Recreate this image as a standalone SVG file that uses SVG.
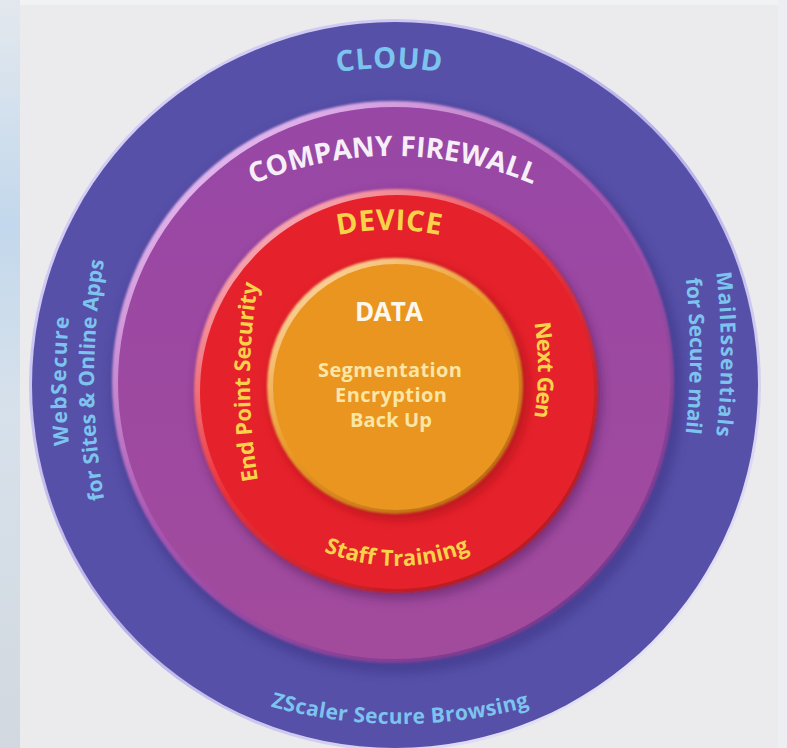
<svg xmlns="http://www.w3.org/2000/svg" width="787" height="748" viewBox="0 0 787 748">
<defs>
  <linearGradient id="leftStrip" x1="0" y1="0" x2="0" y2="1">
    <stop offset="0" stop-color="#e3e8ee"/>
    <stop offset="0.3" stop-color="#c3d8ec"/>
    <stop offset="0.55" stop-color="#d7e1eb"/>
    <stop offset="1" stop-color="#d2d8df"/>
  </linearGradient>
  <linearGradient id="rimBlue" x1="0.15" y1="0.1" x2="0.85" y2="0.9">
    <stop offset="0" stop-color="#d6d0f6"/>
    <stop offset="0.5" stop-color="#b9b2ea"/>
    <stop offset="1" stop-color="#e6e4f6"/>
  </linearGradient>
  <linearGradient id="rimPurple" x1="0.2" y1="0.1" x2="0.8" y2="0.9">
    <stop offset="0" stop-color="#e2b4ec"/>
    <stop offset="0.45" stop-color="#a855b0"/>
    <stop offset="1" stop-color="#7c3a8e"/>
  </linearGradient>
  <linearGradient id="fillPurple" x1="0" y1="0" x2="0" y2="1">
    <stop offset="0" stop-color="#9847a6"/>
    <stop offset="1" stop-color="#a24b9c"/>
  </linearGradient>
  <linearGradient id="rimRed" x1="0.2" y1="0.1" x2="0.8" y2="0.9">
    <stop offset="0" stop-color="#f7a4b0"/>
    <stop offset="0.45" stop-color="#ea3038"/>
    <stop offset="1" stop-color="#b81a22"/>
  </linearGradient>
  <linearGradient id="rimOrange" x1="0.2" y1="0.1" x2="0.8" y2="0.9">
    <stop offset="0" stop-color="#f9cf92"/>
    <stop offset="0.45" stop-color="#ea9a2a"/>
    <stop offset="1" stop-color="#bf6f14"/>
  </linearGradient>
  <filter id="blur4" x="-20%" y="-20%" width="140%" height="140%"><feGaussianBlur stdDeviation="5"/></filter>
  <filter id="blur1" x="-10%" y="-10%" width="120%" height="120%"><feGaussianBlur stdDeviation="1.2"/></filter>

  <path id="pCloud" d="M 286.4 86.1 A 300 300 0 0 1 491.6 86.1"/>
  <path id="pFirewall" d="M 212.5 204.4 A 361 361 0 0 1 573.5 204.4"/>
  <path id="pDevice" d="M 279.1 254.4 A 260 260 0 0 1 498.9 254.4"/>
  <path id="pWeb" d="M 89.9 562.2 A 700 700 0 0 1 89.9 199.8"/>
  <path id="pSites" d="M 117.9 561.2 A 700 700 0 0 1 117.9 198.8"/>
  <path id="pMail" d="M 697.1 172.8 A 700 700 0 0 1 697.1 535.2"/>
  <path id="pSecure" d="M 666.1 174.8 A 700 700 0 0 1 666.1 537.2"/>
  <path id="pZscaler" d="M 232.4 694.4 A 490 490 0 0 0 567.6 694.4"/>
  <path id="pStaff" d="M 288 531.6 A 190 190 0 0 0 506 531.6"/>
  <path id="pEnd" d="M 270.4 537.3 A 600 600 0 0 1 270.4 226.7"/>
  <path id="pNext" d="M 509.9 243.2 A 300 300 0 0 1 509.9 496.8"/>
</defs>
<style>
  text { font-family: "Open Sans", "Noto Sans", "DejaVu Sans", sans-serif; font-weight: 700; }
  .sky { fill: #7cc4ee; font-size: 21px; }
  .cloud { fill: #7cc4ee; font-size: 29px; }
  .white { fill: #f6eef8; font-size: 28px; }
  .yellow { fill: #f8d34a; font-size: 22px; }
  .dev { fill: #f8d34a; font-size: 29px; }
  .data { fill: #fdf8ee; font-size: 26px; }
  .pale { fill: #fbe6a6; font-size: 20px; }
</style>

<!-- background -->
<rect x="0" y="0" width="787" height="748" fill="#f1f2f4"/>
<rect x="0" y="0" width="20" height="748" fill="url(#leftStrip)"/>
<rect x="20" y="5" width="758" height="743" fill="#ebebed"/>
<rect x="778" y="0" width="9" height="748" fill="#eceef1"/>

<g id="cloud">
  <circle cx="395" cy="385" r="366" fill="url(#rimBlue)"/>
  <circle cx="395" cy="385" r="363" fill="#5650a8"/>
  <circle cx="397" cy="388" r="286" fill="#3c3688" opacity="0.55" filter="url(#blur4)"/>
  <text class="cloud"><textPath href="#pCloud" startOffset="50%" text-anchor="middle" textLength="104" lengthAdjust="spacing">CLOUD</textPath></text>
  <text class="sky"><textPath href="#pWeb" startOffset="50%" text-anchor="middle" textLength="128" lengthAdjust="spacing">WebSecure</textPath></text>
  <text class="sky"><textPath href="#pSites" startOffset="50%" text-anchor="middle" textLength="240" lengthAdjust="spacing">for Sites &amp; Online Apps</textPath></text>
  <text class="sky"><textPath href="#pMail" startOffset="50%" text-anchor="middle" textLength="164" lengthAdjust="spacing">MailEssentials</textPath></text>
  <text class="sky"><textPath href="#pSecure" startOffset="50%" text-anchor="middle" textLength="155" lengthAdjust="spacing">for Secure mail</textPath></text>
  <text class="sky"><textPath href="#pZscaler" startOffset="50%" text-anchor="middle" textLength="262" lengthAdjust="spacing">ZScaler Secure Browsing</textPath></text>
</g>

<g id="company-firewall">
  <circle cx="393" cy="382" r="281" fill="url(#rimPurple)" filter="url(#blur1)"/>
  <circle cx="394" cy="383" r="276" fill="url(#fillPurple)"/>
  <circle cx="399" cy="396" r="204" fill="#5e2468" opacity="0.55" filter="url(#blur4)"/>
  <text class="white"><textPath href="#pFirewall" startOffset="50%" text-anchor="middle" textLength="288" lengthAdjust="spacing">COMPANY FIREWALL</textPath></text>
</g>

<g id="device">
  <circle cx="396" cy="391" r="202" fill="url(#rimRed)" filter="url(#blur1)"/>
  <circle cx="397" cy="392" r="197" fill="#e5222b"/>
  <circle cx="399" cy="390" r="130" fill="#9a1016" opacity="0.5" filter="url(#blur4)"/>
  <text class="dev"><textPath href="#pDevice" startOffset="50%" text-anchor="middle" textLength="103" lengthAdjust="spacing">DEVICE</textPath></text>
  <text class="yellow"><textPath href="#pEnd" startOffset="50%" text-anchor="middle" textLength="198" lengthAdjust="spacing">End Point Security</textPath></text>
  <text class="yellow"><textPath href="#pNext" startOffset="50%" text-anchor="middle" textLength="95" lengthAdjust="spacing">Next Gen</textPath></text>
  <text class="yellow"><textPath href="#pStaff" startOffset="50%" text-anchor="middle" textLength="150" lengthAdjust="spacing">Staff Training</textPath></text>
</g>

<g id="data">
  <circle cx="395" cy="386" r="128" fill="url(#rimOrange)" filter="url(#blur1)"/>
  <circle cx="396" cy="387" r="123" fill="#e9951f"/>
  <text class="data" x="389" y="321" text-anchor="middle" textLength="68" lengthAdjust="spacing">DATA</text>
  <text class="pale" x="390" y="377" text-anchor="middle" textLength="144" lengthAdjust="spacing">Segmentation</text>
  <text class="pale" x="391" y="402" text-anchor="middle" textLength="112" lengthAdjust="spacing">Encryption</text>
  <text class="pale" x="391" y="427" text-anchor="middle" textLength="82" lengthAdjust="spacing">Back Up</text>
</g>

<g id="connectors"></g>
</svg>
